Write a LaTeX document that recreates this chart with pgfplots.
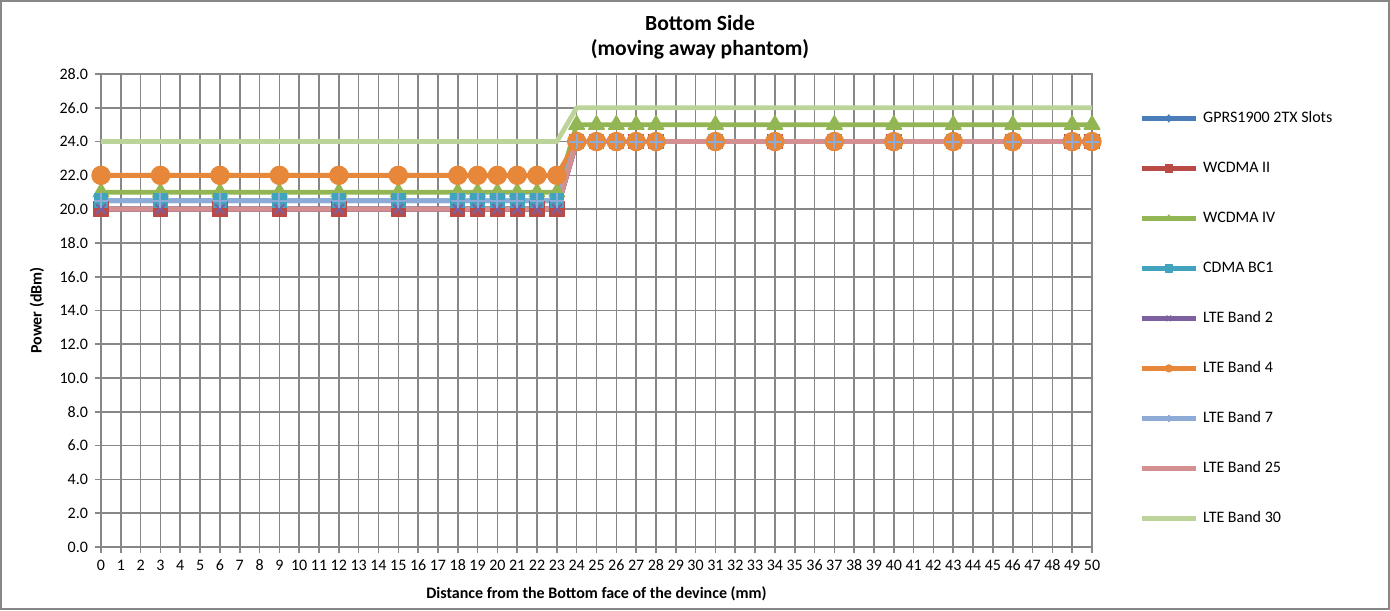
\documentclass[border=0pt]{standalone}
\usepackage{pgfplots}
\pgfplotsset{compat=1.18}
\usepackage{pgfplotstable}
\usepackage{fontspec}
\setmainfont{Carlito}
\definecolor{cgprs}{HTML}{4A7EBB}
\definecolor{cwtwo}{HTML}{B94A46}
\definecolor{cwfour}{HTML}{92B653}
\definecolor{ccdma}{HTML}{42A3BF}
\definecolor{cltwo}{HTML}{7D60A0}
\definecolor{clfour}{HTML}{E6873A}
\definecolor{clseven}{HTML}{8EABD8}
\definecolor{cltwentyfive}{HTML}{D49090}
\definecolor{clthirty}{HTML}{BCD39A}
\definecolor{gridgray}{HTML}{878787}
\pgfplotstableread{
x  gprs w2 w4 cdma l2 l4 l7 l25 l30
0  20 20 21 20.5 20 22 20.5 20 24
3  20 20 21 20.5 20 22 20.5 20 24
6  20 20 21 20.5 20 22 20.5 20 24
9  20 20 21 20.5 20 22 20.5 20 24
12 20 20 21 20.5 20 22 20.5 20 24
15 20 20 21 20.5 20 22 20.5 20 24
18 20 20 21 20.5 20 22 20.5 20 24
19 20 20 21 20.5 20 22 20.5 20 24
20 20 20 21 20.5 20 22 20.5 20 24
21 20 20 21 20.5 20 22 20.5 20 24
22 20 20 21 20.5 20 22 20.5 20 24
23 20 20 21 20.5 20 22 20.5 20 24
24 24 24 25 24 24 24 24 24 26
25 24 24 25 24 24 24 24 24 26
26 24 24 25 24 24 24 24 24 26
27 24 24 25 24 24 24 24 24 26
28 24 24 25 24 24 24 24 24 26
31 24 24 25 24 24 24 24 24 26
34 24 24 25 24 24 24 24 24 26
37 24 24 25 24 24 24 24 24 26
40 24 24 25 24 24 24 24 24 26
43 24 24 25 24 24 24 24 24 26
46 24 24 25 24 24 24 24 24 26
49 24 24 25 24 24 24 24 24 26
50 24 24 25 24 24 24 24 24 26
}\datatable
\begin{document}
\begin{tikzpicture}
\path[use as bounding box] (-50.5pt,-31.5pt) rectangle (644.5pt,273.5pt);
\draw[gridgray, line width=0.6pt] (-50pt,-31pt) rectangle (644pt,273pt);
\node[align=center, font=\bfseries\fontsize{10.8}{12.5}\selectfont] at (299.5pt,254.75pt) {Bottom Side\\(moving away phantom)};
\begin{axis}[
  scale only axis,
  width=495.5pt, height=236.5pt,
  at={(0pt,0pt)}, anchor=south west,
  xmin=0, xmax=50, ymin=0, ymax=28,
  xtick={0,1,...,50}, ytick={0,2,...,28},
  grid=major,
  grid style={gridgray, line width=0.8pt},
  axis line style={gridgray, line width=0.8pt},
  tick style={gridgray, line width=0.8pt},
  tick align=outside, major tick length=3pt,
  xtick pos=bottom, ytick pos=left,
  ticklabel style={font=\fontsize{8}{9.5}\selectfont, text=black},
  /pgf/number format/assume math mode=true,
  yticklabel style={/pgf/number format/.cd, fixed, fixed zerofill, precision=1},
  xticklabel style={/pgf/number format/.cd, fixed, precision=0},
  xlabel={Distance from the Bottom face of the devince (mm)},
  ylabel={Power (dBm)},
  label style={font=\bfseries\fontsize{8}{9.5}\selectfont},
  xlabel style={at={(axis description cs:0.5,-0.0994)}, anchor=center},
  ylabel style={at={(axis description cs:-0.0646,0.5)}, anchor=center},
  legend style={at={(1,1)}, anchor=north west, xshift=23.5pt, yshift=-18.25pt,
    draw=none, fill=none, inner sep=0pt, row sep=17.5pt,
    nodes={inner sep=0pt, text height=6pt, text depth=1.5pt, anchor=west},
    font=\fontsize{8}{9.5}\selectfont},
  legend cell align=left,
  /tikz/every odd column/.append style={column sep=2.5pt},
  legend image code/.code={
    \draw[#1, mark size=1.8pt, mark repeat=2, mark phase=2] plot coordinates {(0pt,0pt) (13.5pt,0pt) (27pt,0pt)};
  },
  every axis plot/.append style={line width=2.4pt, line join=round},
]
\addplot[cgprs, mark=diamond*, mark size=3.2pt, mark options={line width=0.5pt}] table[x=x,y=gprs]{\datatable};
\addlegendentry{GPRS1900 2TX Slots}
\addplot[cwtwo, mark=square*, mark size=3.6pt, mark options={line width=0.5pt}] table[x=x,y=w2]{\datatable};
\addlegendentry{WCDMA II}
\addplot[cwfour, mark=triangle*, mark size=4.6pt, mark options={line width=0.5pt}] table[x=x,y=w4]{\datatable};
\addlegendentry{WCDMA IV}
\addplot[ccdma, mark=square*, mark size=3.4pt, mark options={line width=0.5pt}] table[x=x,y=cdma]{\datatable};
\addlegendentry{CDMA BC1}
\addplot[cltwo, mark=x, mark size=3.4pt, mark options={line width=1pt}] table[x=x,y=l2]{\datatable};
\addlegendentry{LTE Band 2}
\addplot[clfour, mark=*, mark size=4.6pt, mark options={line width=0.5pt}] table[x=x,y=l4]{\datatable};
\addlegendentry{LTE Band 4}
\addplot[clseven, mark=+, mark size=3.6pt, mark options={line width=1pt}] table[x=x,y=l7]{\datatable};
\addlegendentry{LTE Band 7}
\addplot[cltwentyfive, no markers] table[x=x,y=l25]{\datatable};
\addlegendentry{LTE Band 25}
\addplot[clthirty, no markers] table[x=x,y=l30]{\datatable};
\addlegendentry{LTE Band 30}
\end{axis}
\end{tikzpicture}
\end{document}
